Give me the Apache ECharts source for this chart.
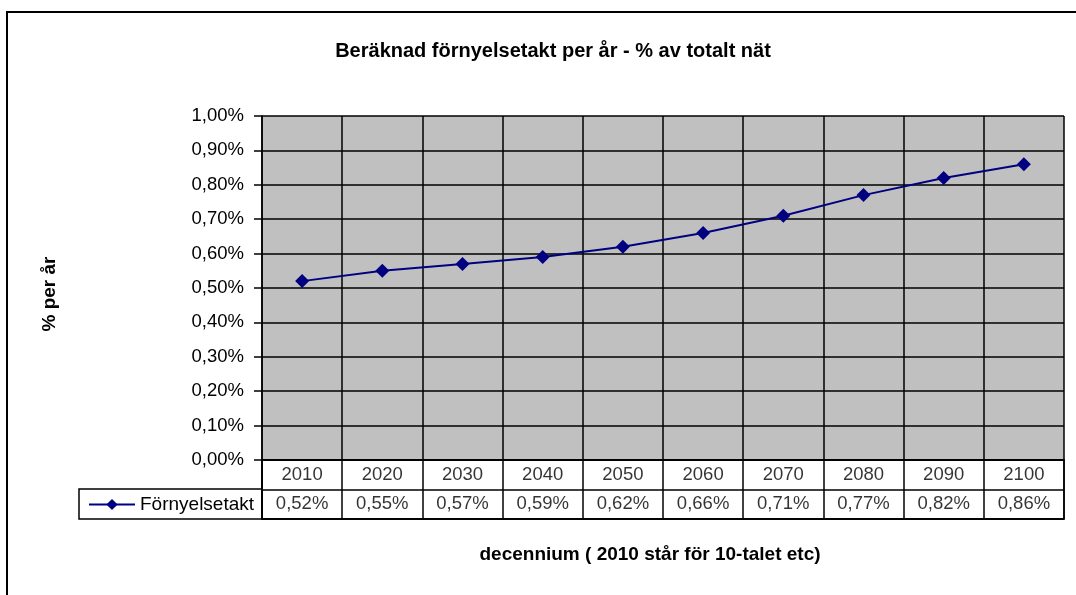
<!DOCTYPE html>
<html>
<head>
<meta charset="utf-8">
<script src="https://cdn.jsdelivr.net/npm/echarts@6/dist/echarts.min.js"></script>
<style>
  html, body { margin: 0; padding: 0; background: #fff; }
  #chart { width: 1076px; height: 595px; }
</style>
</head>
<body>
<div id="chart"></div>
<script>
// decennier och beräknad förnyelsetakt (% per år)
const decades = ['2010', '2020', '2030', '2040', '2050', '2060', '2070', '2080', '2090', '2100']
const renewalRate = [0.52, 0.55, 0.57, 0.59, 0.62, 0.66, 0.71, 0.77, 0.82, 0.86]
const seriesName = 'Förnyelsetakt'

const FONT = '"Liberation Sans", Arial, sans-serif'

// svensk decimalform: 0.52 -> "0,52%"
function pct(v) {
  return v.toFixed(2).replace('.', ',') + '%'
}

const chart = echarts.init(document.getElementById('chart'))

chart.setOption({
  animation: false,
  backgroundColor: '#fff',
  textStyle: { fontFamily: FONT, color: '#000' },
  title: [
    {
      text: 'Beräknad förnyelsetakt per år - % av totalt nät',
      left: 548,
      top: 36,
      textAlign: 'center',
      textStyle: { fontFamily: FONT, fontSize: 20, fontWeight: 'bold', color: '#000' },
    },
    {
      text: 'decennium ( 2010 står för 10-talet etc)',
      left: 645,
      top: 540,
      textAlign: 'center',
      textStyle: { fontFamily: FONT, fontSize: 19, fontWeight: 'bold', color: '#000' },
    },
  ],
  legend: {
    data: [seriesName],
    left: 88,
    top: 495,
    padding: 0,
    itemWidth: 46,
    itemHeight: 14,
    textStyle: { fontFamily: FONT, fontSize: 19, color: '#000' },
  },
  grid: [
    // diagramytan
    { left: 262, right: 12, top: 116, height: 344, show: true, backgroundColor: '#c0c0c0', borderWidth: 0 },
    // datatabellen under diagrammet
    { left: 262, right: 12, top: 460, height: 59, show: true, backgroundColor: '#fff', borderColor: '#000', borderWidth: 1.5 },
  ],
  xAxis: [
    {
      type: 'category',
      gridIndex: 0,
      data: decades,
      boundaryGap: true,
      axisLine: { lineStyle: { color: '#000', width: 1.5 } },
      axisTick: { show: false },
      axisLabel: { show: false },
      splitLine: { show: true, interval: 0, lineStyle: { color: '#000', width: 1.5 } },
    },
    {
      type: 'category',
      gridIndex: 1,
      data: decades,
      boundaryGap: true,
      axisLine: { lineStyle: { color: '#000', width: 1.5 } },
      axisTick: { show: false },
      axisLabel: { show: false },
      splitLine: { show: true, interval: 0, lineStyle: { color: '#000', width: 1.5 } },
    },
  ],
  yAxis: [
    {
      type: 'value',
      gridIndex: 0,
      min: 0,
      max: 1,
      interval: 0.1,
      name: '% per år',
      nameLocation: 'middle',
      nameGap: 203,
      nameTextStyle: { fontFamily: FONT, fontSize: 19, fontWeight: 'bold', color: '#000', padding: [0, 12, 0, 0] },
      axisLine: { show: true, lineStyle: { color: '#000', width: 1.5 } },
      axisTick: { show: true, length: 8, lineStyle: { color: '#000', width: 1.5 } },
      axisLabel: { margin: 18, fontSize: 18.5, color: '#000', formatter: pct },
      splitLine: { show: true, lineStyle: { color: '#000', width: 1.5 } },
    },
    {
      type: 'value',
      gridIndex: 1,
      min: 0,
      max: 2,
      interval: 1,
      axisLine: { show: true, lineStyle: { color: '#000', width: 1.5 } },
      axisTick: { show: false },
      axisLabel: { show: false },
      splitLine: { show: true, lineStyle: { color: '#000', width: 1.5 } },
    },
  ],
  series: [
    {
      name: seriesName,
      type: 'line',
      xAxisIndex: 0,
      yAxisIndex: 0,
      data: renewalRate,
      symbol: 'diamond',
      symbolSize: 14,
      color: '#000080',
      lineStyle: { color: '#000080', width: 2 },
      itemStyle: { color: '#000080' },
    },
    {
      // tabellrad 1: årtal
      name: 'years',
      type: 'scatter',
      xAxisIndex: 1,
      yAxisIndex: 1,
      symbolSize: 0,
      data: decades.map((d, i) => [i, 1.5]),
      label: {
        show: true,
        position: 'inside',
        fontSize: 18.5,
        color: '#000',
        formatter: (p) => decades[p.dataIndex],
      },
    },
    {
      // tabellrad 2: värden
      name: 'values',
      type: 'scatter',
      xAxisIndex: 1,
      yAxisIndex: 1,
      symbolSize: 0,
      data: renewalRate.map((v, i) => [i, 0.5]),
      label: {
        show: true,
        position: 'inside',
        fontSize: 18.5,
        color: '#000',
        formatter: (p) => pct(renewalRate[p.dataIndex]),
      },
    },
  ],
  graphic: [
    // yttre ram
    {
      type: 'rect',
      shape: { x: 7, y: 12, width: 1100, height: 620 },
      style: { fill: 'none', stroke: '#000', lineWidth: 2 },
      silent: true,
    },
    // förklaringsruta till vänster om värderaden
    {
      type: 'rect',
      shape: { x: 79, y: 489, width: 183, height: 30 },
      style: { fill: 'none', stroke: '#000', lineWidth: 1.5 },
      silent: true,
      z: 10,
    },
  ],
})
</script>
</body>
</html>
